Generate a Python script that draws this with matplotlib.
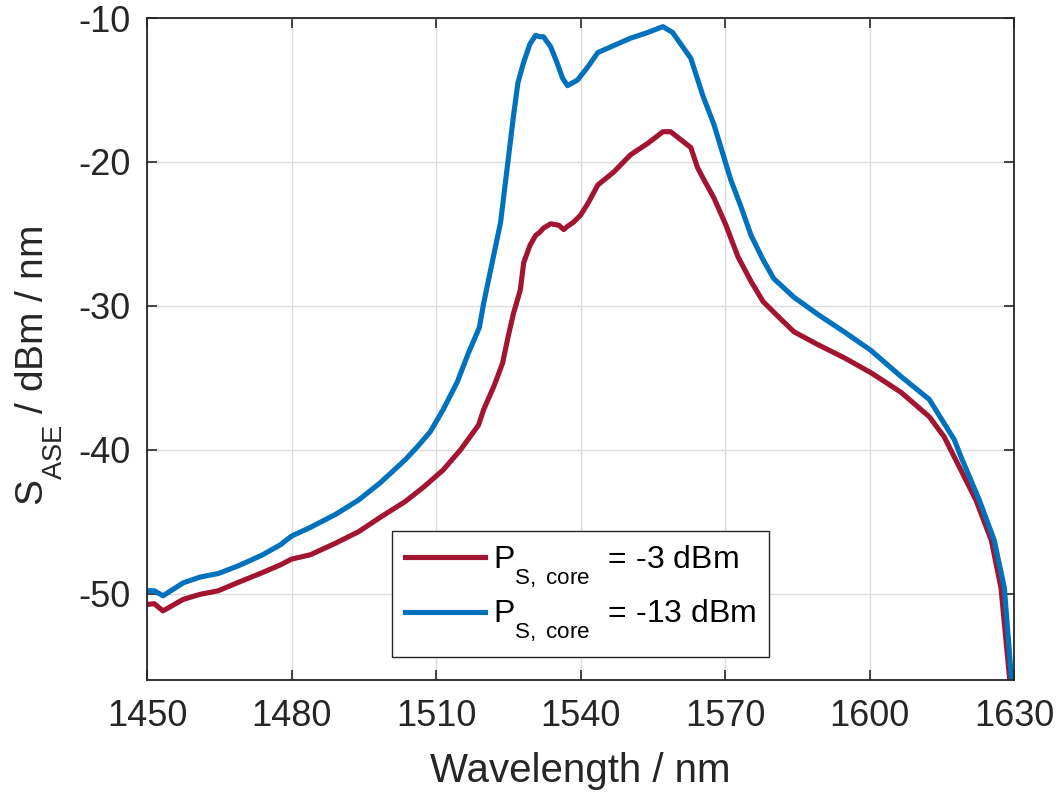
import numpy as np
import matplotlib
matplotlib.use('Agg')
import matplotlib.pyplot as plt
import matplotlib._mathtext as mt

plt.rcParams['font.family'] = ['Liberation Sans', 'DejaVu Sans']
plt.rcParams['mathtext.fontset'] = 'custom'
plt.rcParams['mathtext.rm'] = 'Liberation Sans'
plt.rcParams['mathtext.it'] = 'Liberation Sans'
plt.rcParams['axes.unicode_minus'] = False
# subscripts sit lower in the original (MATLAB style)
mt.FontConstantsBase.sub1 = 0.95

# ASE spectrum, P_S,core = -3 dBm
wl_red = [1450, 1451.5, 1453.3, 1457.5, 1461, 1464.8, 1468.7, 1473.5, 1477.7, 1480,
          1483.9, 1489.1, 1493.9, 1498.4, 1503.6, 1507.4, 1511.5, 1515.1, 1518.8, 1519.9,
          1522, 1523.8, 1525, 1526.1, 1527.5, 1528.2, 1529.5, 1530.7, 1531.5, 1532.3,
          1533.8, 1535.5, 1536.5, 1537.2, 1538.5, 1540, 1541.5, 1543.6, 1546.9, 1550.4,
          1554, 1557.1, 1558.7, 1562.9, 1564.3, 1565.4, 1567.7, 1570.2, 1572.7, 1575.4,
          1577.9, 1580.6, 1584.3, 1589.3, 1594.7, 1600.3, 1606.5, 1612.4, 1615.5, 1617.6,
          1622.1, 1625.3, 1627.3, 1629, 1629.8]
sase_red = [-50.75, -50.7, -51.2, -50.4, -50.05, -49.8, -49.25, -48.6, -48.0, -47.6,
            -47.3, -46.5, -45.7, -44.7, -43.6, -42.6, -41.4, -40.0, -38.3, -37.2,
            -35.6, -34.0, -32.1, -30.5, -28.9, -27.0, -25.8, -25.1, -24.9, -24.6,
            -24.3, -24.4, -24.7, -24.5, -24.2, -23.7, -22.9, -21.6, -20.7, -19.5,
            -18.7, -17.9, -17.9, -19.0, -20.4, -21.1, -22.5, -24.4, -26.6, -28.3,
            -29.7, -30.6, -31.8, -32.7, -33.6, -34.65, -36.0, -37.7, -39.1, -40.5,
            -43.5, -46.3, -49.6, -55.6, -58]

# ASE spectrum, P_S,core = -13 dBm
wl_blue = [1450, 1451.5, 1453.3, 1457.5, 1461, 1464.8, 1468.7, 1471.4, 1474, 1477.7,
           1480, 1483.9, 1489.1, 1493.9, 1498.4, 1503.6, 1506.1, 1508.8, 1511.5, 1514.4,
           1516.7, 1519, 1519.9, 1520.9, 1523.4, 1526.1, 1527, 1528.2, 1529.5, 1530.7,
           1531.5, 1532.3, 1533.8, 1535, 1536.3, 1537.3, 1539.4, 1541.5, 1543.6, 1546.3,
           1550.4, 1554, 1557.1, 1559.1, 1562.9, 1565.4, 1567.7, 1571.2, 1573.3, 1575.4,
           1577.9, 1580.1, 1584.3, 1589.3, 1594.7, 1600.3, 1606.5, 1612.4, 1617.6, 1619,
           1622.8, 1625.9, 1628, 1629.4, 1630]
sase_blue = [-49.8, -49.8, -50.15, -49.25, -48.85, -48.6, -48.1, -47.7, -47.3, -46.6,
             -46.0, -45.4, -44.5, -43.5, -42.3, -40.7, -39.8, -38.75, -37.2, -35.3,
             -33.3, -31.5, -29.8, -28.2, -24.2, -16.75, -14.5, -13.06, -11.8, -11.2,
             -11.3, -11.3, -12.0, -13.0, -14.2, -14.7, -14.3, -13.4, -12.4, -12.0,
             -11.4, -11.0, -10.6, -11.0, -12.8, -15.4, -17.4, -21.25, -23.1, -25.1,
             -26.8, -28.1, -29.4, -30.6, -31.8, -33.1, -34.9, -36.5, -39.3, -40.5,
             -43.5, -46.3, -49.6, -55.6, -58]

xticks = [1450, 1480, 1510, 1540, 1570, 1600, 1630]
yticks = [-50, -40, -30, -20, -10]

fig = plt.figure(figsize=(10.61, 7.94), dpi=100)
ax = fig.add_axes([0.1386, 0.1436, 0.8171, 0.8337])

ax.plot(wl_red, sase_red, color='#A2142F', lw=3.7, label=r'$\mathregular{P_{S,\ core}}$  = -3 dBm')
ax.plot(wl_blue, sase_blue, color='#0072BD', lw=3.7, label=r'$\mathregular{P_{S,\ core}}$  = -13 dBm')

ax.set_xlim(1450, 1630)
ax.set_ylim(-56, -10)
ax.set_xticks(xticks)
ax.set_yticks(yticks)
ax.grid(True, color='#dcdcdc', lw=1.0)
ax.set_axisbelow(True)

ax.tick_params(direction='in', length=7, width=1.2, top=True, right=True,
               labelsize=26, colors='#262626')
ax.tick_params(axis='x', pad=14)
ax.tick_params(axis='y', pad=12)
for sp in ax.spines.values():
    sp.set_color('#262626')
    sp.set_linewidth(1.3)

ax.set_xlabel('Wavelength / nm', fontsize=29, color='#262626', labelpad=13)
ax.set_ylabel(r'$\mathregular{S_{ASE}}$ / dBm / nm', fontsize=28, color='#262626')
ax.yaxis.set_label_coords(-0.095, 0.474)

leg = ax.legend(loc='lower left', bbox_to_anchor=(0.2826, 0.035), borderaxespad=0,
                fontsize=23, handlelength=2.5, handletextpad=0.25, borderpad=0.4,
                labelspacing=0.25, fancybox=False, framealpha=1, edgecolor='#262626')
leg.get_frame().set_linewidth(1.0)

fig.savefig('out.png', dpi=100)
